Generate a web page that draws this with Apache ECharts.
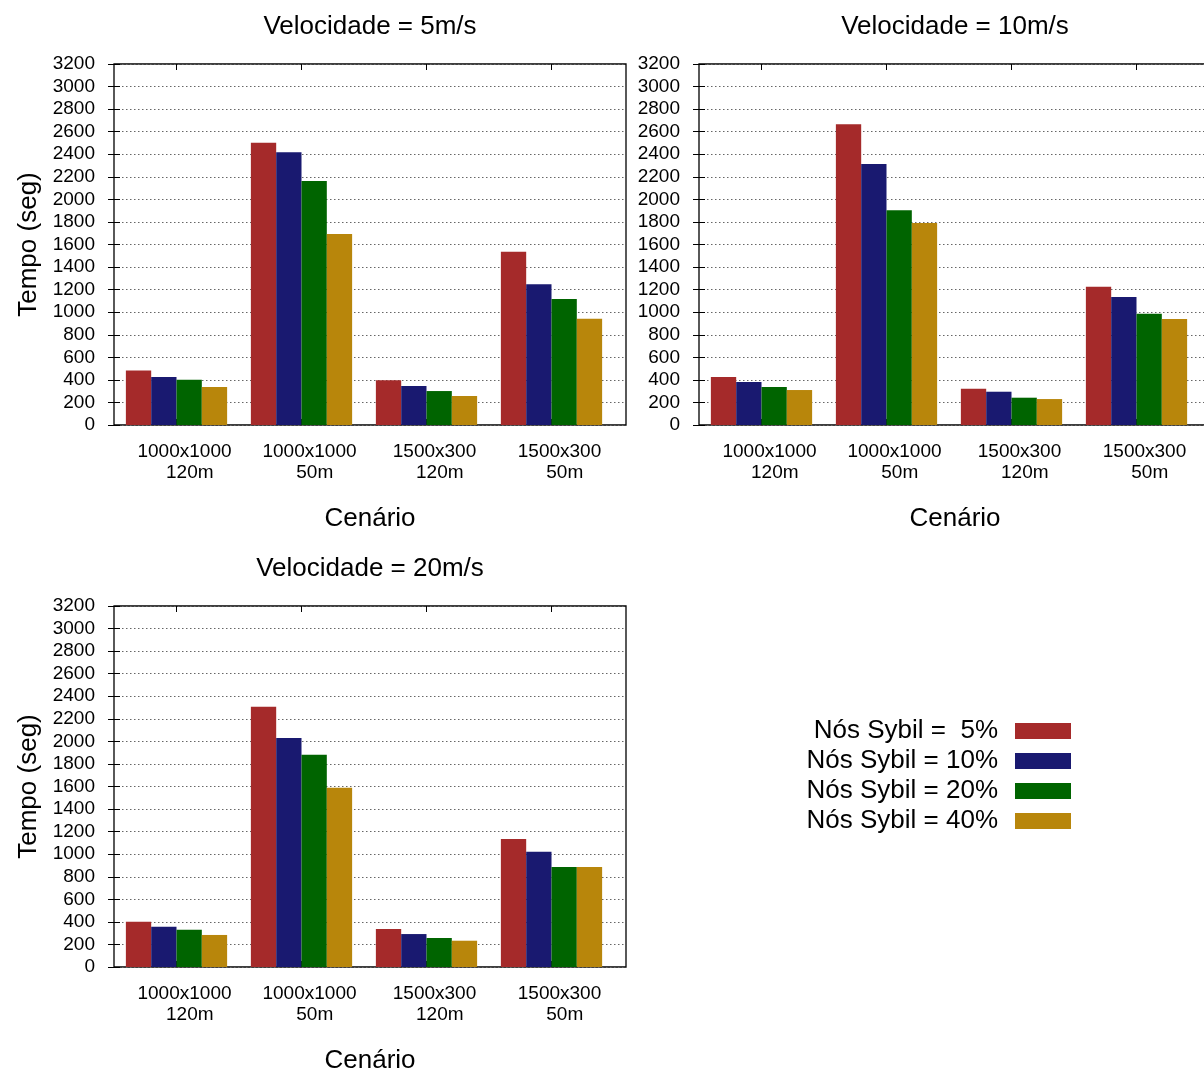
<!DOCTYPE html>
<html>
<head>
<meta charset="utf-8">
<script src="https://cdn.jsdelivr.net/npm/echarts@6/dist/echarts.min.js"></script>
<style>
html,body{margin:0;padding:0;background:#fff;}
#chart{width:1204px;height:1070px;}
</style>
</head>
<body>
<div id="chart"></div>
<script>
// ---- data ----
const categories = ['1000x1000\n  120m', '1000x1000\n  50m', '1500x300\n  120m', '1500x300\n  50m'];
const seriesNames = ['Nós Sybil =  5%', 'Nós Sybil = 10%', 'Nós Sybil = 20%', 'Nós Sybil = 40%'];
const panelTitles = ['Velocidade = 5m/s', 'Velocidade = 10m/s', 'Velocidade = 20m/s'];
const yTicks = {min: 0, max: 3200, interval: 200};

// Velocidade = 5m/s
const v5_s5  = [484, 2502, 396, 1536];
const v5_s10 = [425, 2417, 346, 1247];
const v5_s20 = [402, 2163, 301, 1117];
const v5_s40 = [337, 1693, 257, 942];
// Velocidade = 10m/s
const v10_s5  = [425, 2665, 322, 1226];
const v10_s10 = [381, 2313, 295, 1134];
const v10_s20 = [337, 1903, 242, 987];
const v10_s40 = [310, 1790, 230, 939];
// Velocidade = 20m/s
const v20_s5  = [402, 2307, 337, 1134];
const v20_s10 = [357, 2030, 292, 1022];
const v20_s20 = [331, 1882, 257, 886];
const v20_s40 = [284, 1589, 233, 886];

const panelData = [
  [v5_s5, v5_s10, v5_s20, v5_s40],
  [v10_s5, v10_s10, v10_s20, v10_s40],
  [v20_s5, v20_s10, v20_s20, v20_s40]
];
const colors = ['#A52A2A', '#191970', '#006400', '#B8860B'];

// ---- layout ----
const FONT = 'Liberation Sans';
// frame: full plot box; the bar area covers the first 500px of it (gnuplot xrange slightly wider than the categories)
const frames = [
  {left: 114, top: 64, width: 512, height: 361},
  {left: 699, top: 64, width: 512, height: 361},
  {left: 114, top: 606, width: 512, height: 361}
];
const BAR_AREA_W = 500;

const option = {
  backgroundColor: '#fff',
  animation: false,
  textStyle: {fontFamily: FONT, color: '#000'},
  title: panelTitles.map((t, i) => ({
    text: t,
    left: frames[i].left + frames[i].width / 2,
    textAlign: 'center',
    top: frames[i].top - 50,
    padding: 0,
    textStyle: {fontFamily: FONT, fontSize: 26, fontWeight: 'normal', color: '#000'}
  })),
  legend: {
    data: seriesNames,
    orient: 'vertical',
    align: 'right',
    right: 133,
    top: 718,
    padding: 0,
    icon: 'rect',
    itemWidth: 56,
    itemHeight: 16,
    itemGap: 4,
    selectedMode: false,
    textStyle: {fontFamily: FONT, fontSize: 26, color: '#000', lineHeight: 26, padding: [0, 12, 0, 0]}
  },
  grid: [],
  xAxis: [],
  yAxis: [],
  series: []
};

frames.forEach((f, i) => {
  const gA = 2 * i, gB = 2 * i + 1;
  // bar grid
  option.grid.push({left: f.left, top: f.top, width: BAR_AREA_W, height: f.height, show: false, outerBoundsMode: 'none', containLabel: false});
  // frame grid
  option.grid.push({left: f.left, top: f.top, width: f.width, height: f.height, show: true, borderColor: '#000', borderWidth: 1.3, backgroundColor: 'transparent', outerBoundsMode: 'none', containLabel: false});

  // x axes
  option.xAxis.push({
    type: 'category', gridIndex: gA, data: categories, position: 'bottom',
    axisLine: {show: false},
    axisTick: {show: true, inside: true, alignWithLabel: true, length: 6, lineStyle: {color: '#000'}},
    axisLabel: {show: true, fontFamily: FONT, fontSize: 19, color: '#000', margin: 16, lineHeight: 21, interval: 0, padding: [0, 0, 0, 16]},
    splitLine: {show: false}
  });
  option.xAxis.push({
    type: 'category', gridIndex: gA, data: categories, position: 'top',
    axisLine: {show: false},
    axisTick: {show: true, inside: true, alignWithLabel: true, length: 6, lineStyle: {color: '#000'}},
    axisLabel: {show: false},
    splitLine: {show: false}
  });
  option.xAxis.push({
    type: 'value', gridIndex: gB, min: 0, max: 1, position: 'bottom',
    name: 'Cenário', nameLocation: 'middle', nameGap: 81,
    nameTextStyle: {fontFamily: FONT, fontSize: 26, color: '#000'},
    axisLine: {show: false}, axisTick: {show: false}, axisLabel: {show: false}, splitLine: {show: false}
  });

  // y axes
  option.yAxis.push({
    type: 'value', gridIndex: gA, position: 'left',
    min: yTicks.min, max: yTicks.max, interval: yTicks.interval,
    name: i === 1 ? '' : 'Tempo (seg)', nameLocation: 'middle', nameGap: 72, nameRotate: 90,
    nameTextStyle: {fontFamily: FONT, fontSize: 26, color: '#000'},
    axisLine: {show: false},
    axisTick: {show: true, inside: true, length: 6, lineStyle: {color: '#000'}},
    axisLabel: {show: true, fontFamily: FONT, fontSize: 19, color: '#000', margin: 19, formatter: v => String(v)},
    splitLine: {show: false}
  });
  option.yAxis.push({
    type: 'value', gridIndex: gB, position: 'right',
    min: yTicks.min, max: yTicks.max, interval: yTicks.interval,
    axisLine: {show: false},
    axisTick: {show: true, inside: true, length: 6, lineStyle: {color: '#000'}},
    axisLabel: {show: false},
    splitLine: {show: true, lineStyle: {color: '#666', type: [1.5, 2.5], width: 1}}
  });

  panelData[i].forEach((vals, k) => {
    option.series.push({
      type: 'bar',
      name: seriesNames[k],
      xAxisIndex: 3 * i,
      yAxisIndex: 2 * i,
      data: vals,
      barGap: '0%',
      barCategoryGap: '19%',
      itemStyle: {color: colors[k]}
    });
  });
});

const chart = echarts.init(document.getElementById('chart'), null, {renderer: 'canvas'});
chart.setOption(option);
</script>
</body>
</html>
